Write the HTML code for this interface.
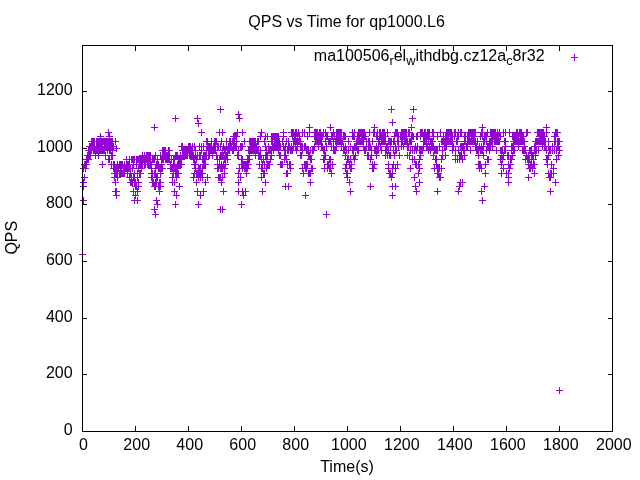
<!DOCTYPE html>
<html><head><meta charset="utf-8"><title>QPS vs Time for qp1000.L6</title>
<style>
html,body{margin:0;padding:0;background:#fff;}
svg{display:block}
text{font-family:"Liberation Sans",Arial,sans-serif;font-size:16px;fill:#000}
</style></head><body>
<svg width="640" height="480" viewBox="0 0 640 480">
<rect width="640" height="480" fill="#fff"/>
<text x="346.6" y="26.5" text-anchor="middle">QPS vs Time for qp1000.L6</text>
<text x="347" y="471.5" text-anchor="middle">Time(s)</text>
<text transform="translate(16.5,237.7) rotate(-90)" text-anchor="middle">QPS</text>
<text x="544.6" y="61" text-anchor="end">ma100506<tspan font-size="12.8" dy="3.6">r</tspan><tspan dy="-3.6">el</tspan><tspan font-size="12.8" dy="3.6">w</tspan><tspan dy="-3.6">ithdbg.cz12a</tspan><tspan font-size="12.8" dy="3.6">c</tspan><tspan dy="-3.6">8r32</tspan></text>
<text x="83.5" y="449.9" text-anchor="middle">0</text><text x="136.7" y="449.9" text-anchor="middle">200</text><text x="189.7" y="449.9" text-anchor="middle">400</text><text x="242.7" y="449.9" text-anchor="middle">600</text><text x="295.7" y="449.9" text-anchor="middle">800</text><text x="348.8" y="449.9" text-anchor="middle">1000</text><text x="401.8" y="449.9" text-anchor="middle">1200</text><text x="454.8" y="449.9" text-anchor="middle">1400</text><text x="507.8" y="449.9" text-anchor="middle">1600</text><text x="560.8" y="449.9" text-anchor="middle">1800</text><text x="613.8" y="449.9" text-anchor="middle">2000</text><text x="72.6" y="434.5" text-anchor="end">0</text><text x="72.6" y="377.5" text-anchor="end">200</text><text x="72.6" y="321.5" text-anchor="end">400</text><text x="72.6" y="264.5" text-anchor="end">600</text><text x="72.6" y="207.5" text-anchor="end">800</text><text x="72.6" y="151.5" text-anchor="end">1000</text><text x="72.6" y="94.5" text-anchor="end">1200</text>
<path d="M89 146.5h7M92.5 143v7M89 141.5h7M92.5 138v7M90 150.5h7M93.5 147v7M90 146.5h7M93.5 143v7M90 141.5h7M93.5 138v7M90 150.5h7M93.5 147v7M91 146.5h7M94.5 143v7M91 141.5h7M94.5 138v7M91 150.5h7M94.5 147v7M91 141.5h7M94.5 138v7M92 150.5h7M95.5 147v7M92 150.5h7M95.5 147v7M92 155.5h7M95.5 152v7M93 141.5h7M96.5 138v7M93 150.5h7M96.5 147v7M93 146.5h7M96.5 143v7M93 141.5h7M96.5 138v7M94 150.5h7M97.5 147v7M94 141.5h7M97.5 138v7M94 141.5h7M97.5 138v7M94 146.5h7M97.5 143v7M95 146.5h7M98.5 143v7M95 141.5h7M98.5 138v7M95 150.5h7M98.5 147v7M95 146.5h7M98.5 143v7M96 141.5h7M99.5 138v7M96 150.5h7M99.5 147v7M96 146.5h7M99.5 143v7M96 141.5h7M99.5 138v7M97 150.5h7M100.5 147v7M97 146.5h7M100.5 143v7M97 141.5h7M100.5 138v7M98 150.5h7M101.5 147v7M98 146.5h7M101.5 143v7M98 141.5h7M101.5 138v7M98 150.5h7M101.5 147v7M99 150.5h7M102.5 147v7M99 141.5h7M102.5 138v7M99 150.5h7M102.5 147v7M99 146.5h7M102.5 143v7M100 141.5h7M103.5 138v7M100 150.5h7M103.5 147v7M100 141.5h7M103.5 138v7M100 141.5h7M103.5 138v7M101 150.5h7M104.5 147v7M101 146.5h7M104.5 143v7M101 141.5h7M104.5 138v7M102 146.5h7M105.5 143v7M102 146.5h7M105.5 143v7M102 141.5h7M105.5 138v7M102 146.5h7M105.5 143v7M103 146.5h7M106.5 143v7M103 141.5h7M106.5 138v7M103 141.5h7M106.5 138v7M103 141.5h7M106.5 138v7M104 141.5h7M107.5 138v7M104 146.5h7M107.5 143v7M104 146.5h7M107.5 143v7M104 150.5h7M107.5 147v7M105 146.5h7M108.5 143v7M105 146.5h7M108.5 143v7M105 141.5h7M108.5 138v7M106 150.5h7M109.5 147v7M106 146.5h7M109.5 143v7M106 141.5h7M109.5 138v7M106 150.5h7M109.5 147v7M107 146.5h7M110.5 143v7M107 141.5h7M110.5 138v7M107 150.5h7M110.5 147v7M107 146.5h7M110.5 143v7M108 141.5h7M111.5 138v7M108 155.5h7M111.5 152v7M108 146.5h7M111.5 143v7M108 141.5h7M111.5 138v7M109 150.5h7M112.5 147v7M109 146.5h7M112.5 143v7M109 141.5h7M112.5 138v7M109 141.5h7M112.5 138v7M110 146.5h7M113.5 143v7M110 168.5h7M113.5 165v7M110 164.5h7M113.5 161v7M111 164.5h7M114.5 161v7M111 173.5h7M114.5 170v7M111 168.5h7M114.5 165v7M111 173.5h7M114.5 170v7M112 168.5h7M115.5 165v7M112 173.5h7M115.5 170v7M112 168.5h7M115.5 165v7M112 168.5h7M115.5 165v7M113 168.5h7M116.5 165v7M113 173.5h7M116.5 170v7M113 173.5h7M116.5 170v7M113 173.5h7M116.5 170v7M114 164.5h7M117.5 161v7M114 173.5h7M117.5 170v7M114 168.5h7M117.5 165v7M115 168.5h7M118.5 165v7M115 168.5h7M118.5 165v7M115 168.5h7M118.5 165v7M115 168.5h7M118.5 165v7M116 173.5h7M119.5 170v7M116 173.5h7M119.5 170v7M116 164.5h7M119.5 161v7M116 164.5h7M119.5 161v7M117 164.5h7M120.5 161v7M117 168.5h7M120.5 165v7M117 164.5h7M120.5 161v7M117 168.5h7M120.5 165v7M118 164.5h7M121.5 161v7M118 168.5h7M121.5 165v7M118 173.5h7M121.5 170v7M118 173.5h7M121.5 170v7M119 164.5h7M122.5 161v7M119 164.5h7M122.5 161v7M119 173.5h7M122.5 170v7M120 168.5h7M123.5 165v7M120 173.5h7M123.5 170v7M120 173.5h7M123.5 170v7M120 168.5h7M123.5 165v7M121 164.5h7M124.5 161v7M121 164.5h7M124.5 161v7M121 168.5h7M124.5 165v7M121 173.5h7M124.5 170v7M122 168.5h7M125.5 165v7M122 168.5h7M125.5 165v7M122 168.5h7M125.5 165v7M122 168.5h7M125.5 165v7M123 168.5h7M126.5 165v7M123 164.5h7M126.5 161v7M123 159.5h7M126.5 156v7M124 173.5h7M127.5 170v7M124 164.5h7M127.5 161v7M124 168.5h7M127.5 165v7M124 164.5h7M127.5 161v7M125 168.5h7M128.5 165v7M125 164.5h7M128.5 161v7M125 164.5h7M128.5 161v7M125 164.5h7M128.5 161v7M126 168.5h7M129.5 165v7M126 159.5h7M129.5 156v7M126 177.5h7M129.5 174v7M126 164.5h7M129.5 161v7M127 173.5h7M130.5 170v7M127 182.5h7M130.5 179v7M127 173.5h7M130.5 170v7M127 168.5h7M130.5 165v7M128 182.5h7M131.5 179v7M128 159.5h7M131.5 156v7M128 177.5h7M131.5 174v7M129 159.5h7M132.5 156v7M129 182.5h7M132.5 179v7M129 168.5h7M132.5 165v7M129 168.5h7M132.5 165v7M130 159.5h7M133.5 156v7M130 177.5h7M133.5 174v7M130 164.5h7M133.5 161v7M130 191.5h7M133.5 188v7M131 173.5h7M134.5 170v7M131 177.5h7M134.5 174v7M131 182.5h7M134.5 179v7M131 159.5h7M134.5 156v7M132 186.5h7M135.5 183v7M132 186.5h7M135.5 183v7M132 182.5h7M135.5 179v7M133 186.5h7M136.5 183v7M133 164.5h7M136.5 161v7M133 186.5h7M136.5 183v7M133 159.5h7M136.5 156v7M134 173.5h7M137.5 170v7M134 191.5h7M137.5 188v7M134 177.5h7M137.5 174v7M134 159.5h7M137.5 156v7M135 159.5h7M138.5 156v7M135 186.5h7M138.5 183v7M135 182.5h7M138.5 179v7M135 168.5h7M138.5 165v7M136 159.5h7M139.5 156v7M136 173.5h7M139.5 170v7M136 164.5h7M139.5 161v7M137 173.5h7M140.5 170v7M137 173.5h7M140.5 170v7M137 164.5h7M140.5 161v7M137 159.5h7M140.5 156v7M138 164.5h7M141.5 161v7M138 159.5h7M141.5 156v7M138 159.5h7M141.5 156v7M138 168.5h7M141.5 165v7M139 159.5h7M142.5 156v7M139 164.5h7M142.5 161v7M139 155.5h7M142.5 152v7M139 164.5h7M142.5 161v7M140 159.5h7M143.5 156v7M140 159.5h7M143.5 156v7M140 159.5h7M143.5 156v7M140 159.5h7M143.5 156v7M141 164.5h7M144.5 161v7M141 159.5h7M144.5 156v7M141 155.5h7M144.5 152v7M142 164.5h7M145.5 161v7M142 159.5h7M145.5 156v7M142 164.5h7M145.5 161v7M142 159.5h7M145.5 156v7M143 159.5h7M146.5 156v7M143 159.5h7M146.5 156v7M143 159.5h7M146.5 156v7M143 155.5h7M146.5 152v7M144 164.5h7M147.5 161v7M144 159.5h7M147.5 156v7M144 155.5h7M147.5 152v7M144 159.5h7M147.5 156v7M145 164.5h7M148.5 161v7M145 155.5h7M148.5 152v7M145 159.5h7M148.5 156v7M146 155.5h7M149.5 152v7M146 164.5h7M149.5 161v7M146 155.5h7M149.5 152v7M146 159.5h7M149.5 156v7M147 155.5h7M150.5 152v7M147 164.5h7M150.5 161v7M147 159.5h7M150.5 156v7M147 164.5h7M150.5 161v7M148 173.5h7M151.5 170v7M148 177.5h7M151.5 174v7M148 164.5h7M151.5 161v7M148 168.5h7M151.5 165v7M149 177.5h7M152.5 174v7M149 182.5h7M152.5 179v7M149 173.5h7M152.5 170v7M149 159.5h7M152.5 156v7M150 182.5h7M153.5 179v7M150 182.5h7M153.5 179v7M150 159.5h7M153.5 156v7M151 173.5h7M154.5 170v7M151 173.5h7M154.5 170v7M151 186.5h7M154.5 183v7M151 159.5h7M154.5 156v7M152 168.5h7M155.5 165v7M152 186.5h7M155.5 183v7M152 173.5h7M155.5 170v7M152 155.5h7M155.5 152v7M153 177.5h7M156.5 174v7M153 182.5h7M156.5 179v7M153 164.5h7M156.5 161v7M153 177.5h7M156.5 174v7M154 159.5h7M157.5 156v7M154 164.5h7M157.5 161v7M154 177.5h7M157.5 174v7M155 186.5h7M158.5 183v7M155 164.5h7M158.5 161v7M155 168.5h7M158.5 165v7M155 168.5h7M158.5 165v7M156 186.5h7M159.5 183v7M156 182.5h7M159.5 179v7M156 168.5h7M159.5 165v7M156 168.5h7M159.5 165v7M157 173.5h7M160.5 170v7M157 155.5h7M160.5 152v7M157 168.5h7M160.5 165v7M157 168.5h7M160.5 165v7M158 168.5h7M161.5 165v7M158 164.5h7M161.5 161v7M158 159.5h7M161.5 156v7M159 168.5h7M162.5 165v7M159 159.5h7M162.5 156v7M159 150.5h7M162.5 147v7M159 155.5h7M162.5 152v7M160 155.5h7M163.5 152v7M160 155.5h7M163.5 152v7M160 159.5h7M163.5 156v7M160 150.5h7M163.5 147v7M161 155.5h7M164.5 152v7M161 155.5h7M164.5 152v7M161 150.5h7M164.5 147v7M161 155.5h7M164.5 152v7M162 159.5h7M165.5 156v7M162 155.5h7M165.5 152v7M162 155.5h7M165.5 152v7M162 150.5h7M165.5 147v7M163 159.5h7M166.5 156v7M163 159.5h7M166.5 156v7M163 155.5h7M166.5 152v7M164 155.5h7M167.5 152v7M164 159.5h7M167.5 156v7M164 155.5h7M167.5 152v7M164 155.5h7M167.5 152v7M165 150.5h7M168.5 147v7M165 155.5h7M168.5 152v7M165 159.5h7M168.5 156v7M165 150.5h7M168.5 147v7M166 155.5h7M169.5 152v7M166 159.5h7M169.5 156v7M166 150.5h7M169.5 147v7M166 155.5h7M169.5 152v7M167 164.5h7M170.5 161v7M167 164.5h7M170.5 161v7M167 168.5h7M170.5 165v7M168 159.5h7M171.5 156v7M168 159.5h7M171.5 156v7M168 168.5h7M171.5 165v7M168 168.5h7M171.5 165v7M169 168.5h7M172.5 165v7M169 168.5h7M172.5 165v7M169 168.5h7M172.5 165v7M169 177.5h7M172.5 174v7M170 159.5h7M173.5 156v7M170 164.5h7M173.5 161v7M170 173.5h7M173.5 170v7M170 168.5h7M173.5 165v7M171 168.5h7M174.5 165v7M171 182.5h7M174.5 179v7M171 159.5h7M174.5 156v7M171 164.5h7M174.5 161v7M172 168.5h7M175.5 165v7M172 173.5h7M175.5 170v7M172 155.5h7M175.5 152v7M173 155.5h7M176.5 152v7M173 173.5h7M176.5 170v7M173 168.5h7M176.5 165v7M173 177.5h7M176.5 174v7M174 168.5h7M177.5 165v7M174 155.5h7M177.5 152v7M174 164.5h7M177.5 161v7M174 173.5h7M177.5 170v7M175 173.5h7M178.5 170v7M175 159.5h7M178.5 156v7M175 164.5h7M178.5 161v7M175 173.5h7M178.5 170v7M176 164.5h7M179.5 161v7M176 164.5h7M179.5 161v7M176 159.5h7M179.5 156v7M177 159.5h7M180.5 156v7M177 164.5h7M180.5 161v7M177 159.5h7M180.5 156v7M177 155.5h7M180.5 152v7M178 164.5h7M181.5 161v7M178 159.5h7M181.5 156v7M178 159.5h7M181.5 156v7M178 146.5h7M181.5 143v7M179 155.5h7M182.5 152v7M179 150.5h7M182.5 147v7M179 155.5h7M182.5 152v7M179 146.5h7M182.5 143v7M180 155.5h7M183.5 152v7M180 150.5h7M183.5 147v7M180 150.5h7M183.5 147v7M180 155.5h7M183.5 152v7M181 155.5h7M184.5 152v7M181 150.5h7M184.5 147v7M181 150.5h7M184.5 147v7M182 150.5h7M185.5 147v7M182 155.5h7M185.5 152v7M182 150.5h7M185.5 147v7M182 150.5h7M185.5 147v7M183 150.5h7M186.5 147v7M183 155.5h7M186.5 152v7M183 150.5h7M186.5 147v7M183 150.5h7M186.5 147v7M184 155.5h7M187.5 152v7M184 155.5h7M187.5 152v7M184 150.5h7M187.5 147v7M184 150.5h7M187.5 147v7M185 146.5h7M188.5 143v7M185 150.5h7M188.5 147v7M185 150.5h7M188.5 147v7M186 155.5h7M189.5 152v7M186 146.5h7M189.5 143v7M186 155.5h7M189.5 152v7M186 150.5h7M189.5 147v7M187 155.5h7M190.5 152v7M187 150.5h7M190.5 147v7M187 155.5h7M190.5 152v7M187 146.5h7M190.5 143v7M188 155.5h7M191.5 152v7M188 150.5h7M191.5 147v7M188 155.5h7M191.5 152v7M188 150.5h7M191.5 147v7M189 150.5h7M192.5 147v7M189 146.5h7M192.5 143v7M189 155.5h7M192.5 152v7M190 159.5h7M193.5 156v7M190 155.5h7M193.5 152v7M190 159.5h7M193.5 156v7M190 159.5h7M193.5 156v7M191 164.5h7M194.5 161v7M191 146.5h7M194.5 143v7M191 159.5h7M194.5 156v7M191 173.5h7M194.5 170v7M192 164.5h7M195.5 161v7M192 150.5h7M195.5 147v7M192 168.5h7M195.5 165v7M192 155.5h7M195.5 152v7M193 159.5h7M196.5 156v7M193 159.5h7M196.5 156v7M193 159.5h7M196.5 156v7M193 173.5h7M196.5 170v7M194 155.5h7M197.5 152v7M194 173.5h7M197.5 170v7M194 155.5h7M197.5 152v7M195 168.5h7M198.5 165v7M195 168.5h7M198.5 165v7M195 177.5h7M198.5 174v7M195 173.5h7M198.5 170v7M196 168.5h7M199.5 165v7M196 146.5h7M199.5 143v7M196 173.5h7M199.5 170v7M196 155.5h7M199.5 152v7M197 177.5h7M200.5 174v7M197 155.5h7M200.5 152v7M197 173.5h7M200.5 170v7M197 168.5h7M200.5 165v7M198 173.5h7M201.5 170v7M198 146.5h7M201.5 143v7M198 150.5h7M201.5 147v7M199 159.5h7M202.5 156v7M199 168.5h7M202.5 165v7M199 177.5h7M202.5 174v7M199 173.5h7M202.5 170v7M200 146.5h7M203.5 143v7M200 164.5h7M203.5 161v7M200 159.5h7M203.5 156v7M200 155.5h7M203.5 152v7M201 155.5h7M204.5 152v7M201 164.5h7M204.5 161v7M201 159.5h7M204.5 156v7M201 159.5h7M204.5 156v7M202 159.5h7M205.5 156v7M202 164.5h7M205.5 161v7M202 155.5h7M205.5 152v7M202 155.5h7M205.5 152v7M203 141.5h7M206.5 138v7M203 155.5h7M206.5 152v7M203 150.5h7M206.5 147v7M204 146.5h7M207.5 143v7M204 146.5h7M207.5 143v7M204 141.5h7M207.5 138v7M204 141.5h7M207.5 138v7M205 150.5h7M208.5 147v7M205 146.5h7M208.5 143v7M205 155.5h7M208.5 152v7M205 146.5h7M208.5 143v7M206 150.5h7M209.5 147v7M206 150.5h7M209.5 147v7M206 155.5h7M209.5 152v7M206 146.5h7M209.5 143v7M207 150.5h7M210.5 147v7M207 146.5h7M210.5 143v7M207 150.5h7M210.5 147v7M208 146.5h7M211.5 143v7M208 150.5h7M211.5 147v7M208 150.5h7M211.5 147v7M208 141.5h7M211.5 138v7M209 155.5h7M212.5 152v7M209 150.5h7M212.5 147v7M209 150.5h7M212.5 147v7M209 150.5h7M212.5 147v7M210 150.5h7M213.5 147v7M210 150.5h7M213.5 147v7M210 146.5h7M213.5 143v7M210 150.5h7M213.5 147v7M211 146.5h7M214.5 143v7M211 150.5h7M214.5 147v7M211 141.5h7M214.5 138v7M212 150.5h7M215.5 147v7M212 146.5h7M215.5 143v7M212 141.5h7M215.5 138v7M212 146.5h7M215.5 143v7M213 141.5h7M216.5 138v7M213 155.5h7M216.5 152v7M213 155.5h7M216.5 152v7M213 155.5h7M216.5 152v7M214 159.5h7M217.5 156v7M214 164.5h7M217.5 161v7M214 146.5h7M217.5 143v7M214 168.5h7M217.5 165v7M215 177.5h7M218.5 174v7M215 168.5h7M218.5 165v7M215 168.5h7M218.5 165v7M215 146.5h7M218.5 143v7M216 159.5h7M219.5 156v7M216 177.5h7M219.5 174v7M216 164.5h7M219.5 161v7M217 168.5h7M220.5 165v7M217 155.5h7M220.5 152v7M217 177.5h7M220.5 174v7M217 146.5h7M220.5 143v7M218 168.5h7M221.5 165v7M218 164.5h7M221.5 161v7M218 155.5h7M221.5 152v7M218 141.5h7M221.5 138v7M219 168.5h7M222.5 165v7M219 177.5h7M222.5 174v7M219 150.5h7M222.5 147v7M219 155.5h7M222.5 152v7M220 146.5h7M223.5 143v7M220 155.5h7M223.5 152v7M220 164.5h7M223.5 161v7M221 150.5h7M224.5 147v7M221 168.5h7M224.5 165v7M221 159.5h7M224.5 156v7M221 173.5h7M224.5 170v7M222 150.5h7M225.5 147v7M222 159.5h7M225.5 156v7M222 164.5h7M225.5 161v7M222 155.5h7M225.5 152v7M223 141.5h7M226.5 138v7M223 155.5h7M226.5 152v7M223 155.5h7M226.5 152v7M223 146.5h7M226.5 143v7M224 155.5h7M227.5 152v7M224 159.5h7M227.5 156v7M224 150.5h7M227.5 147v7M224 155.5h7M227.5 152v7M225 146.5h7M228.5 143v7M225 146.5h7M228.5 143v7M225 150.5h7M228.5 147v7M226 141.5h7M229.5 138v7M226 146.5h7M229.5 143v7M226 141.5h7M229.5 138v7M226 150.5h7M229.5 147v7M227 146.5h7M230.5 143v7M227 141.5h7M230.5 138v7M227 146.5h7M230.5 143v7M227 146.5h7M230.5 143v7M228 146.5h7M231.5 143v7M228 146.5h7M231.5 143v7M228 146.5h7M231.5 143v7M228 146.5h7M231.5 143v7M229 141.5h7M232.5 138v7M229 141.5h7M232.5 138v7M229 150.5h7M232.5 147v7M230 150.5h7M233.5 147v7M230 141.5h7M233.5 138v7M230 146.5h7M233.5 143v7M230 136.5h7M233.5 133v7M231 146.5h7M234.5 143v7M231 146.5h7M234.5 143v7M231 136.5h7M234.5 133v7M231 141.5h7M234.5 138v7M232 136.5h7M235.5 133v7M232 136.5h7M235.5 133v7M232 146.5h7M235.5 143v7M232 136.5h7M235.5 133v7M233 136.5h7M236.5 133v7M233 146.5h7M236.5 143v7M233 141.5h7M236.5 138v7M233 141.5h7M236.5 138v7M234 155.5h7M237.5 152v7M234 155.5h7M237.5 152v7M234 155.5h7M237.5 152v7M235 150.5h7M238.5 147v7M235 173.5h7M238.5 170v7M235 155.5h7M238.5 152v7M235 150.5h7M238.5 147v7M236 168.5h7M239.5 165v7M236 168.5h7M239.5 165v7M236 168.5h7M239.5 165v7M236 168.5h7M239.5 165v7M237 146.5h7M240.5 143v7M237 146.5h7M240.5 143v7M237 177.5h7M240.5 174v7M237 177.5h7M240.5 174v7M238 146.5h7M241.5 143v7M238 159.5h7M241.5 156v7M238 164.5h7M241.5 161v7M239 146.5h7M242.5 143v7M239 168.5h7M242.5 165v7M239 164.5h7M242.5 161v7M239 159.5h7M242.5 156v7M240 164.5h7M243.5 161v7M240 164.5h7M243.5 161v7M240 164.5h7M243.5 161v7M240 164.5h7M243.5 161v7M241 141.5h7M244.5 138v7M241 168.5h7M244.5 165v7M241 168.5h7M244.5 165v7M241 164.5h7M244.5 161v7M242 164.5h7M245.5 161v7M242 168.5h7M245.5 165v7M242 164.5h7M245.5 161v7M243 164.5h7M246.5 161v7M243 164.5h7M246.5 161v7M243 168.5h7M246.5 165v7M243 173.5h7M246.5 170v7M244 164.5h7M247.5 161v7M244 164.5h7M247.5 161v7M244 159.5h7M247.5 156v7M244 168.5h7M247.5 165v7M245 164.5h7M248.5 161v7M245 164.5h7M248.5 161v7M245 159.5h7M248.5 156v7M245 150.5h7M248.5 147v7M246 141.5h7M249.5 138v7M246 150.5h7M249.5 147v7M246 155.5h7M249.5 152v7M246 159.5h7M249.5 156v7M247 141.5h7M250.5 138v7M247 146.5h7M250.5 143v7M247 150.5h7M250.5 147v7M248 141.5h7M251.5 138v7M248 146.5h7M251.5 143v7M248 150.5h7M251.5 147v7M248 146.5h7M251.5 143v7M249 141.5h7M252.5 138v7M249 150.5h7M252.5 147v7M249 141.5h7M252.5 138v7M249 146.5h7M252.5 143v7M250 146.5h7M253.5 143v7M250 146.5h7M253.5 143v7M250 141.5h7M253.5 138v7M250 150.5h7M253.5 147v7M251 141.5h7M254.5 138v7M251 146.5h7M254.5 143v7M251 150.5h7M254.5 147v7M252 146.5h7M255.5 143v7M252 141.5h7M255.5 138v7M252 150.5h7M255.5 147v7M252 155.5h7M255.5 152v7M253 146.5h7M256.5 143v7M253 150.5h7M256.5 147v7M253 146.5h7M256.5 143v7M253 146.5h7M256.5 143v7M254 150.5h7M257.5 147v7M254 150.5h7M257.5 147v7M254 150.5h7M257.5 147v7M254 141.5h7M257.5 138v7M255 141.5h7M258.5 138v7M255 150.5h7M258.5 147v7M255 155.5h7M258.5 152v7M255 155.5h7M258.5 152v7M256 155.5h7M259.5 152v7M256 155.5h7M259.5 152v7M256 164.5h7M259.5 161v7M257 155.5h7M260.5 152v7M257 136.5h7M260.5 133v7M257 155.5h7M260.5 152v7M257 150.5h7M260.5 147v7M258 159.5h7M261.5 156v7M258 168.5h7M261.5 165v7M258 177.5h7M261.5 174v7M258 168.5h7M261.5 165v7M259 168.5h7M262.5 165v7M259 168.5h7M262.5 165v7M259 164.5h7M262.5 161v7M259 164.5h7M262.5 161v7M260 173.5h7M263.5 170v7M260 159.5h7M263.5 156v7M260 159.5h7M263.5 156v7M261 141.5h7M264.5 138v7M261 173.5h7M264.5 170v7M261 173.5h7M264.5 170v7M261 164.5h7M264.5 161v7M262 146.5h7M265.5 143v7M262 136.5h7M265.5 133v7M262 136.5h7M265.5 133v7M262 155.5h7M265.5 152v7M263 150.5h7M266.5 147v7M263 168.5h7M266.5 165v7M263 159.5h7M266.5 156v7M263 155.5h7M266.5 152v7M264 155.5h7M267.5 152v7M264 136.5h7M267.5 133v7M264 164.5h7M267.5 161v7M265 164.5h7M268.5 161v7M265 150.5h7M268.5 147v7M265 146.5h7M268.5 143v7M265 164.5h7M268.5 161v7M266 164.5h7M269.5 161v7M266 164.5h7M269.5 161v7M266 164.5h7M269.5 161v7M266 150.5h7M269.5 147v7M267 159.5h7M270.5 156v7M267 159.5h7M270.5 156v7M267 159.5h7M270.5 156v7M267 150.5h7M270.5 147v7M268 150.5h7M271.5 147v7M268 155.5h7M271.5 152v7M268 136.5h7M271.5 133v7M268 141.5h7M271.5 138v7M269 146.5h7M272.5 143v7M269 141.5h7M272.5 138v7M269 136.5h7M272.5 133v7M270 146.5h7M273.5 143v7M270 136.5h7M273.5 133v7M270 150.5h7M273.5 147v7M270 146.5h7M273.5 143v7M271 141.5h7M274.5 138v7M271 136.5h7M274.5 133v7M271 146.5h7M274.5 143v7M271 136.5h7M274.5 133v7M272 141.5h7M275.5 138v7M272 146.5h7M275.5 143v7M272 141.5h7M275.5 138v7M272 136.5h7M275.5 133v7M273 146.5h7M276.5 143v7M273 136.5h7M276.5 133v7M273 141.5h7M276.5 138v7M274 146.5h7M277.5 143v7M274 141.5h7M277.5 138v7M274 136.5h7M277.5 133v7M274 146.5h7M277.5 143v7M275 136.5h7M278.5 133v7M275 141.5h7M278.5 138v7M275 146.5h7M278.5 143v7M275 150.5h7M278.5 147v7M276 141.5h7M279.5 138v7M276 155.5h7M279.5 152v7M276 146.5h7M279.5 143v7M276 146.5h7M279.5 143v7M277 146.5h7M280.5 143v7M277 146.5h7M280.5 143v7M277 164.5h7M280.5 161v7M277 155.5h7M280.5 152v7M278 164.5h7M281.5 161v7M278 164.5h7M281.5 161v7M278 164.5h7M281.5 161v7M279 164.5h7M282.5 161v7M279 164.5h7M282.5 161v7M279 141.5h7M282.5 138v7M279 141.5h7M282.5 138v7M280 132.5h7M283.5 129v7M280 136.5h7M283.5 133v7M280 146.5h7M283.5 143v7M280 146.5h7M283.5 143v7M281 150.5h7M284.5 147v7M281 159.5h7M284.5 156v7M281 159.5h7M284.5 156v7M281 155.5h7M284.5 152v7M282 150.5h7M285.5 147v7M282 146.5h7M285.5 143v7M282 155.5h7M285.5 152v7M283 159.5h7M286.5 156v7M283 159.5h7M286.5 156v7M283 141.5h7M286.5 138v7M283 173.5h7M286.5 170v7M284 150.5h7M287.5 147v7M284 173.5h7M287.5 170v7M284 164.5h7M287.5 161v7M284 164.5h7M287.5 161v7M285 146.5h7M288.5 143v7M285 150.5h7M288.5 147v7M285 141.5h7M288.5 138v7M285 146.5h7M288.5 143v7M286 146.5h7M289.5 143v7M286 146.5h7M289.5 143v7M286 146.5h7M289.5 143v7M286 164.5h7M289.5 161v7M287 168.5h7M290.5 165v7M287 164.5h7M290.5 161v7M287 150.5h7M290.5 147v7M288 150.5h7M291.5 147v7M288 146.5h7M291.5 143v7M288 146.5h7M291.5 143v7M288 132.5h7M291.5 129v7M289 132.5h7M292.5 129v7M289 132.5h7M292.5 129v7M289 136.5h7M292.5 133v7M289 150.5h7M292.5 147v7M290 146.5h7M293.5 143v7M290 141.5h7M293.5 138v7M290 141.5h7M293.5 138v7M290 132.5h7M293.5 129v7M291 136.5h7M294.5 133v7M291 141.5h7M294.5 138v7M291 136.5h7M294.5 133v7M292 146.5h7M295.5 143v7M292 141.5h7M295.5 138v7M292 132.5h7M295.5 129v7M292 136.5h7M295.5 133v7M293 141.5h7M296.5 138v7M293 150.5h7M296.5 147v7M293 132.5h7M296.5 129v7M293 141.5h7M296.5 138v7M294 146.5h7M297.5 143v7M294 146.5h7M297.5 143v7M294 141.5h7M297.5 138v7M294 136.5h7M297.5 133v7M295 132.5h7M298.5 129v7M295 141.5h7M298.5 138v7M295 132.5h7M298.5 129v7M296 136.5h7M299.5 133v7M296 141.5h7M299.5 138v7M296 141.5h7M299.5 138v7M296 141.5h7M299.5 138v7M297 141.5h7M300.5 138v7M297 146.5h7M300.5 143v7M297 146.5h7M300.5 143v7M297 155.5h7M300.5 152v7M298 155.5h7M301.5 152v7M298 146.5h7M301.5 143v7M298 146.5h7M301.5 143v7M298 146.5h7M301.5 143v7M299 150.5h7M302.5 147v7M299 146.5h7M302.5 143v7M299 132.5h7M302.5 129v7M299 168.5h7M302.5 165v7M300 173.5h7M303.5 170v7M300 173.5h7M303.5 170v7M300 173.5h7M303.5 170v7M301 132.5h7M304.5 129v7M301 146.5h7M304.5 143v7M301 164.5h7M304.5 161v7M301 164.5h7M304.5 161v7M302 164.5h7M305.5 161v7M302 146.5h7M305.5 143v7M302 146.5h7M305.5 143v7M302 168.5h7M305.5 165v7M303 168.5h7M306.5 165v7M303 150.5h7M306.5 147v7M303 150.5h7M306.5 147v7M303 164.5h7M306.5 161v7M304 164.5h7M307.5 161v7M304 136.5h7M307.5 133v7M304 150.5h7M307.5 147v7M305 155.5h7M308.5 152v7M305 150.5h7M308.5 147v7M305 173.5h7M308.5 170v7M305 173.5h7M308.5 170v7M306 132.5h7M309.5 129v7M306 132.5h7M309.5 129v7M306 155.5h7M309.5 152v7M306 173.5h7M309.5 170v7M307 173.5h7M310.5 170v7M307 173.5h7M310.5 170v7M307 150.5h7M310.5 147v7M307 159.5h7M310.5 156v7M308 159.5h7M311.5 156v7M308 159.5h7M311.5 156v7M308 168.5h7M311.5 165v7M308 168.5h7M311.5 165v7M309 168.5h7M312.5 165v7M309 150.5h7M312.5 147v7M309 150.5h7M312.5 147v7M310 150.5h7M313.5 147v7M310 150.5h7M313.5 147v7M310 150.5h7M313.5 147v7M310 150.5h7M313.5 147v7M311 146.5h7M314.5 143v7M311 146.5h7M314.5 143v7M311 132.5h7M314.5 129v7M311 136.5h7M314.5 133v7M312 141.5h7M315.5 138v7M312 136.5h7M315.5 133v7M312 132.5h7M315.5 129v7M312 141.5h7M315.5 138v7M313 132.5h7M316.5 129v7M313 136.5h7M316.5 133v7M313 141.5h7M316.5 138v7M314 136.5h7M317.5 133v7M314 132.5h7M317.5 129v7M314 141.5h7M317.5 138v7M314 132.5h7M317.5 129v7M315 136.5h7M318.5 133v7M315 141.5h7M318.5 138v7M315 136.5h7M318.5 133v7M315 146.5h7M318.5 143v7M316 141.5h7M319.5 138v7M316 132.5h7M319.5 129v7M316 136.5h7M319.5 133v7M316 141.5h7M319.5 138v7M317 136.5h7M320.5 133v7M317 132.5h7M320.5 129v7M317 141.5h7M320.5 138v7M318 141.5h7M321.5 138v7M318 136.5h7M321.5 133v7M318 146.5h7M321.5 143v7M318 141.5h7M321.5 138v7M319 146.5h7M322.5 143v7M319 136.5h7M322.5 133v7M319 146.5h7M322.5 143v7M319 146.5h7M322.5 143v7M320 132.5h7M323.5 129v7M320 132.5h7M323.5 129v7M320 159.5h7M323.5 156v7M320 150.5h7M323.5 147v7M321 150.5h7M324.5 147v7M321 168.5h7M324.5 165v7M321 155.5h7M324.5 152v7M321 159.5h7M324.5 156v7M322 155.5h7M325.5 152v7M322 141.5h7M325.5 138v7M322 155.5h7M325.5 152v7M323 146.5h7M326.5 143v7M323 146.5h7M326.5 143v7M323 146.5h7M326.5 143v7M323 136.5h7M326.5 133v7M324 136.5h7M327.5 133v7M324 168.5h7M327.5 165v7M324 136.5h7M327.5 133v7M324 164.5h7M327.5 161v7M325 164.5h7M328.5 161v7M325 164.5h7M328.5 161v7M325 141.5h7M328.5 138v7M325 141.5h7M328.5 138v7M326 141.5h7M329.5 138v7M326 168.5h7M329.5 165v7M326 159.5h7M329.5 156v7M327 168.5h7M330.5 165v7M327 164.5h7M330.5 161v7M327 159.5h7M330.5 156v7M327 141.5h7M330.5 138v7M328 173.5h7M331.5 170v7M328 173.5h7M331.5 170v7M328 136.5h7M331.5 133v7M328 146.5h7M331.5 143v7M329 136.5h7M332.5 133v7M329 136.5h7M332.5 133v7M329 164.5h7M332.5 161v7M329 136.5h7M332.5 133v7M330 150.5h7M333.5 147v7M330 146.5h7M333.5 143v7M330 132.5h7M333.5 129v7M330 141.5h7M333.5 138v7M331 150.5h7M334.5 147v7M331 150.5h7M334.5 147v7M331 136.5h7M334.5 133v7M332 141.5h7M335.5 138v7M332 150.5h7M335.5 147v7M332 150.5h7M335.5 147v7M332 150.5h7M335.5 147v7M333 136.5h7M336.5 133v7M333 132.5h7M336.5 129v7M333 141.5h7M336.5 138v7M333 146.5h7M336.5 143v7M334 136.5h7M337.5 133v7M334 141.5h7M337.5 138v7M334 136.5h7M337.5 133v7M334 132.5h7M337.5 129v7M335 141.5h7M338.5 138v7M335 132.5h7M338.5 129v7M335 136.5h7M338.5 133v7M336 141.5h7M339.5 138v7M336 136.5h7M339.5 133v7M336 132.5h7M339.5 129v7M336 141.5h7M339.5 138v7M337 132.5h7M340.5 129v7M337 136.5h7M340.5 133v7M337 141.5h7M340.5 138v7M337 136.5h7M340.5 133v7M338 146.5h7M341.5 143v7M338 141.5h7M341.5 138v7M338 132.5h7M341.5 129v7M338 136.5h7M341.5 133v7M339 141.5h7M342.5 138v7M339 141.5h7M342.5 138v7M339 141.5h7M342.5 138v7M339 141.5h7M342.5 138v7M340 136.5h7M343.5 133v7M340 146.5h7M343.5 143v7M340 150.5h7M343.5 147v7M341 150.5h7M344.5 147v7M341 136.5h7M344.5 133v7M341 150.5h7M344.5 147v7M341 136.5h7M344.5 133v7M342 146.5h7M345.5 143v7M342 168.5h7M345.5 165v7M342 155.5h7M345.5 152v7M342 136.5h7M345.5 133v7M343 150.5h7M346.5 147v7M343 173.5h7M346.5 170v7M343 164.5h7M346.5 161v7M343 164.5h7M346.5 161v7M344 177.5h7M347.5 174v7M344 173.5h7M347.5 170v7M344 159.5h7M347.5 156v7M345 159.5h7M348.5 156v7M345 141.5h7M348.5 138v7M345 150.5h7M348.5 147v7M345 150.5h7M348.5 147v7M346 164.5h7M349.5 161v7M346 164.5h7M349.5 161v7M346 164.5h7M349.5 161v7M346 164.5h7M349.5 161v7M347 159.5h7M350.5 156v7M347 146.5h7M350.5 143v7M347 168.5h7M350.5 165v7M347 168.5h7M350.5 165v7M348 164.5h7M351.5 161v7M348 168.5h7M351.5 165v7M348 168.5h7M351.5 165v7M349 132.5h7M352.5 129v7M349 132.5h7M352.5 129v7M349 136.5h7M352.5 133v7M349 150.5h7M352.5 147v7M350 150.5h7M353.5 147v7M350 155.5h7M353.5 152v7M350 136.5h7M353.5 133v7M350 136.5h7M353.5 133v7M351 146.5h7M354.5 143v7M351 132.5h7M354.5 129v7M351 136.5h7M354.5 133v7M351 159.5h7M354.5 156v7M352 155.5h7M355.5 152v7M352 146.5h7M355.5 143v7M352 146.5h7M355.5 143v7M352 146.5h7M355.5 143v7M353 146.5h7M356.5 143v7M353 146.5h7M356.5 143v7M353 141.5h7M356.5 138v7M354 141.5h7M357.5 138v7M354 150.5h7M357.5 147v7M354 150.5h7M357.5 147v7M354 136.5h7M357.5 133v7M355 141.5h7M358.5 138v7M355 136.5h7M358.5 133v7M355 132.5h7M358.5 129v7M355 150.5h7M358.5 147v7M356 132.5h7M359.5 129v7M356 136.5h7M359.5 133v7M356 141.5h7M359.5 138v7M356 136.5h7M359.5 133v7M357 132.5h7M360.5 129v7M357 141.5h7M360.5 138v7M357 132.5h7M360.5 129v7M358 136.5h7M361.5 133v7M358 141.5h7M361.5 138v7M358 136.5h7M361.5 133v7M358 132.5h7M361.5 129v7M359 141.5h7M362.5 138v7M359 132.5h7M362.5 129v7M359 136.5h7M362.5 133v7M359 141.5h7M362.5 138v7M360 146.5h7M363.5 143v7M360 132.5h7M363.5 129v7M360 141.5h7M363.5 138v7M360 136.5h7M363.5 133v7M361 150.5h7M364.5 147v7M361 150.5h7M364.5 147v7M361 132.5h7M364.5 129v7M361 136.5h7M364.5 133v7M362 136.5h7M365.5 133v7M362 136.5h7M365.5 133v7M362 150.5h7M365.5 147v7M363 141.5h7M366.5 138v7M363 141.5h7M366.5 138v7M363 141.5h7M366.5 138v7M363 146.5h7M366.5 143v7M364 155.5h7M367.5 152v7M364 155.5h7M367.5 152v7M364 155.5h7M367.5 152v7M364 155.5h7M367.5 152v7M365 155.5h7M368.5 152v7M365 146.5h7M368.5 143v7M365 141.5h7M368.5 138v7M365 141.5h7M368.5 138v7M366 141.5h7M369.5 138v7M366 132.5h7M369.5 129v7M366 146.5h7M369.5 143v7M367 146.5h7M370.5 143v7M367 159.5h7M370.5 156v7M367 146.5h7M370.5 143v7M367 146.5h7M370.5 143v7M368 150.5h7M371.5 147v7M368 150.5h7M371.5 147v7M368 155.5h7M371.5 152v7M368 150.5h7M371.5 147v7M369 141.5h7M372.5 138v7M369 168.5h7M372.5 165v7M369 168.5h7M372.5 165v7M369 164.5h7M372.5 161v7M370 168.5h7M373.5 165v7M370 132.5h7M373.5 129v7M370 132.5h7M373.5 129v7M371 132.5h7M374.5 129v7M371 164.5h7M374.5 161v7M371 164.5h7M374.5 161v7M371 150.5h7M374.5 147v7M372 150.5h7M375.5 147v7M372 150.5h7M375.5 147v7M372 150.5h7M375.5 147v7M372 150.5h7M375.5 147v7M373 150.5h7M376.5 147v7M373 155.5h7M376.5 152v7M373 136.5h7M376.5 133v7M373 146.5h7M376.5 143v7M374 136.5h7M377.5 133v7M374 132.5h7M377.5 129v7M374 150.5h7M377.5 147v7M374 150.5h7M377.5 147v7M375 150.5h7M378.5 147v7M375 146.5h7M378.5 143v7M375 141.5h7M378.5 138v7M376 136.5h7M379.5 133v7M376 132.5h7M379.5 129v7M376 141.5h7M379.5 138v7M376 132.5h7M379.5 129v7M377 136.5h7M380.5 133v7M377 146.5h7M380.5 143v7M377 136.5h7M380.5 133v7M377 132.5h7M380.5 129v7M378 141.5h7M381.5 138v7M378 150.5h7M381.5 147v7M378 136.5h7M381.5 133v7M378 141.5h7M381.5 138v7M379 136.5h7M382.5 133v7M379 132.5h7M382.5 129v7M379 141.5h7M382.5 138v7M380 132.5h7M383.5 129v7M380 136.5h7M383.5 133v7M380 141.5h7M383.5 138v7M380 136.5h7M383.5 133v7M381 132.5h7M384.5 129v7M381 141.5h7M384.5 138v7M381 132.5h7M384.5 129v7M381 136.5h7M384.5 133v7M382 141.5h7M385.5 138v7M382 136.5h7M385.5 133v7M382 155.5h7M385.5 152v7M382 150.5h7M385.5 147v7M383 150.5h7M386.5 147v7M383 150.5h7M386.5 147v7M383 146.5h7M386.5 143v7M383 146.5h7M386.5 143v7M384 132.5h7M387.5 129v7M384 146.5h7M387.5 143v7M384 155.5h7M387.5 152v7M385 164.5h7M388.5 161v7M385 150.5h7M388.5 147v7M385 168.5h7M388.5 165v7M385 141.5h7M388.5 138v7M386 141.5h7M389.5 138v7M386 173.5h7M389.5 170v7M386 141.5h7M389.5 138v7M386 155.5h7M389.5 152v7M387 155.5h7M390.5 152v7M387 146.5h7M390.5 143v7M387 141.5h7M390.5 138v7M387 173.5h7M390.5 170v7M388 141.5h7M391.5 138v7M388 177.5h7M391.5 174v7M388 177.5h7M391.5 174v7M389 168.5h7M392.5 165v7M389 168.5h7M392.5 165v7M389 168.5h7M392.5 165v7M389 173.5h7M392.5 170v7M390 164.5h7M393.5 161v7M390 141.5h7M393.5 138v7M390 150.5h7M393.5 147v7M390 141.5h7M393.5 138v7M391 136.5h7M394.5 133v7M391 155.5h7M394.5 152v7M391 141.5h7M394.5 138v7M391 155.5h7M394.5 152v7M392 132.5h7M395.5 129v7M392 146.5h7M395.5 143v7M392 168.5h7M395.5 165v7M392 150.5h7M395.5 147v7M393 150.5h7M396.5 147v7M393 150.5h7M396.5 147v7M393 132.5h7M396.5 129v7M394 132.5h7M397.5 129v7M394 164.5h7M397.5 161v7M394 136.5h7M397.5 133v7M394 141.5h7M397.5 138v7M395 141.5h7M398.5 138v7M395 136.5h7M398.5 133v7M395 146.5h7M398.5 143v7M395 146.5h7M398.5 143v7M396 155.5h7M399.5 152v7M396 155.5h7M399.5 152v7M396 155.5h7M399.5 152v7M396 155.5h7M399.5 152v7M397 136.5h7M400.5 133v7M397 136.5h7M400.5 133v7M397 136.5h7M400.5 133v7M398 146.5h7M401.5 143v7M398 136.5h7M401.5 133v7M398 132.5h7M401.5 129v7M398 141.5h7M401.5 138v7M399 132.5h7M402.5 129v7M399 136.5h7M402.5 133v7M399 141.5h7M402.5 138v7M399 136.5h7M402.5 133v7M400 132.5h7M403.5 129v7M400 146.5h7M403.5 143v7M400 132.5h7M403.5 129v7M400 136.5h7M403.5 133v7M401 141.5h7M404.5 138v7M401 136.5h7M404.5 133v7M401 132.5h7M404.5 129v7M402 141.5h7M405.5 138v7M402 132.5h7M405.5 129v7M402 136.5h7M405.5 133v7M402 141.5h7M405.5 138v7M403 136.5h7M406.5 133v7M403 132.5h7M406.5 129v7M403 141.5h7M406.5 138v7M403 132.5h7M406.5 129v7M404 146.5h7M407.5 143v7M404 141.5h7M407.5 138v7M404 155.5h7M407.5 152v7M404 155.5h7M407.5 152v7M405 132.5h7M408.5 129v7M405 146.5h7M408.5 143v7M405 146.5h7M408.5 143v7M405 146.5h7M408.5 143v7M406 132.5h7M409.5 129v7M406 141.5h7M409.5 138v7M406 155.5h7M409.5 152v7M407 141.5h7M410.5 138v7M407 150.5h7M410.5 147v7M407 150.5h7M410.5 147v7M407 168.5h7M410.5 165v7M408 136.5h7M411.5 133v7M408 141.5h7M411.5 138v7M408 141.5h7M411.5 138v7M408 141.5h7M411.5 138v7M409 150.5h7M412.5 147v7M409 150.5h7M412.5 147v7M409 159.5h7M412.5 156v7M409 136.5h7M412.5 133v7M410 136.5h7M413.5 133v7M410 136.5h7M413.5 133v7M410 136.5h7M413.5 133v7M411 150.5h7M414.5 147v7M411 177.5h7M414.5 174v7M411 177.5h7M414.5 174v7M411 159.5h7M414.5 156v7M412 146.5h7M415.5 143v7M412 146.5h7M415.5 143v7M412 164.5h7M415.5 161v7M412 164.5h7M415.5 161v7M413 164.5h7M416.5 161v7M413 136.5h7M416.5 133v7M413 150.5h7M416.5 147v7M413 150.5h7M416.5 147v7M414 136.5h7M417.5 133v7M414 136.5h7M417.5 133v7M414 146.5h7M417.5 143v7M414 146.5h7M417.5 143v7M415 164.5h7M418.5 161v7M415 173.5h7M418.5 170v7M415 173.5h7M418.5 170v7M416 150.5h7M419.5 147v7M416 159.5h7M419.5 156v7M416 168.5h7M419.5 165v7M416 168.5h7M419.5 165v7M417 150.5h7M420.5 147v7M417 155.5h7M420.5 152v7M417 136.5h7M420.5 133v7M417 132.5h7M420.5 129v7M418 132.5h7M421.5 129v7M418 150.5h7M421.5 147v7M418 150.5h7M421.5 147v7M418 150.5h7M421.5 147v7M419 150.5h7M422.5 147v7M419 150.5h7M422.5 147v7M419 132.5h7M422.5 129v7M420 146.5h7M423.5 143v7M420 141.5h7M423.5 138v7M420 136.5h7M423.5 133v7M420 146.5h7M423.5 143v7M421 141.5h7M424.5 138v7M421 132.5h7M424.5 129v7M421 136.5h7M424.5 133v7M421 141.5h7M424.5 138v7M422 136.5h7M425.5 133v7M422 132.5h7M425.5 129v7M422 141.5h7M425.5 138v7M422 132.5h7M425.5 129v7M423 136.5h7M426.5 133v7M423 141.5h7M426.5 138v7M423 146.5h7M426.5 143v7M424 132.5h7M427.5 129v7M424 146.5h7M427.5 143v7M424 132.5h7M427.5 129v7M424 136.5h7M427.5 133v7M425 150.5h7M428.5 147v7M425 136.5h7M428.5 133v7M425 132.5h7M428.5 129v7M425 141.5h7M428.5 138v7M426 132.5h7M429.5 129v7M426 146.5h7M429.5 143v7M426 136.5h7M429.5 133v7M426 136.5h7M429.5 133v7M427 150.5h7M430.5 147v7M427 141.5h7M430.5 138v7M427 150.5h7M430.5 147v7M427 141.5h7M430.5 138v7M428 141.5h7M431.5 138v7M428 141.5h7M431.5 138v7M428 146.5h7M431.5 143v7M429 141.5h7M432.5 138v7M429 141.5h7M432.5 138v7M429 146.5h7M432.5 143v7M429 132.5h7M432.5 129v7M430 132.5h7M433.5 129v7M430 155.5h7M433.5 152v7M430 146.5h7M433.5 143v7M430 136.5h7M433.5 133v7M431 168.5h7M434.5 165v7M431 150.5h7M434.5 147v7M431 150.5h7M434.5 147v7M431 150.5h7M434.5 147v7M432 150.5h7M435.5 147v7M432 159.5h7M435.5 156v7M432 159.5h7M435.5 156v7M433 159.5h7M436.5 156v7M433 159.5h7M436.5 156v7M433 150.5h7M436.5 147v7M433 164.5h7M436.5 161v7M434 168.5h7M437.5 165v7M434 150.5h7M437.5 147v7M434 136.5h7M437.5 133v7M434 173.5h7M437.5 170v7M435 173.5h7M438.5 170v7M435 173.5h7M438.5 170v7M435 168.5h7M438.5 165v7M435 168.5h7M438.5 165v7M436 146.5h7M439.5 143v7M436 146.5h7M439.5 143v7M436 177.5h7M439.5 174v7M436 168.5h7M439.5 165v7M437 132.5h7M440.5 129v7M437 132.5h7M440.5 129v7M437 177.5h7M440.5 174v7M438 168.5h7M441.5 165v7M438 159.5h7M441.5 156v7M438 141.5h7M441.5 138v7M438 141.5h7M441.5 138v7M439 141.5h7M442.5 138v7M439 141.5h7M442.5 138v7M439 155.5h7M442.5 152v7M439 150.5h7M442.5 147v7M440 136.5h7M443.5 133v7M440 141.5h7M443.5 138v7M440 141.5h7M443.5 138v7M440 141.5h7M443.5 138v7M441 141.5h7M444.5 138v7M441 146.5h7M444.5 143v7M441 146.5h7M444.5 143v7M442 146.5h7M445.5 143v7M442 155.5h7M445.5 152v7M442 141.5h7M445.5 138v7M442 136.5h7M445.5 133v7M443 146.5h7M446.5 143v7M443 141.5h7M446.5 138v7M443 132.5h7M446.5 129v7M443 136.5h7M446.5 133v7M444 141.5h7M447.5 138v7M444 136.5h7M447.5 133v7M444 132.5h7M447.5 129v7M444 141.5h7M447.5 138v7M445 132.5h7M448.5 129v7M445 136.5h7M448.5 133v7M445 141.5h7M448.5 138v7M445 136.5h7M448.5 133v7M446 132.5h7M449.5 129v7M446 141.5h7M449.5 138v7M446 132.5h7M449.5 129v7M447 136.5h7M450.5 133v7M447 141.5h7M450.5 138v7M447 136.5h7M450.5 133v7M447 132.5h7M450.5 129v7M448 141.5h7M451.5 138v7M448 132.5h7M451.5 129v7M448 136.5h7M451.5 133v7M448 141.5h7M451.5 138v7M449 136.5h7M452.5 133v7M449 150.5h7M452.5 147v7M449 141.5h7M452.5 138v7M449 146.5h7M452.5 143v7M450 146.5h7M453.5 143v7M450 146.5h7M453.5 143v7M450 146.5h7M453.5 143v7M451 132.5h7M454.5 129v7M451 132.5h7M454.5 129v7M451 136.5h7M454.5 133v7M451 136.5h7M454.5 133v7M452 132.5h7M455.5 129v7M452 150.5h7M455.5 147v7M452 159.5h7M455.5 156v7M452 155.5h7M455.5 152v7M453 141.5h7M456.5 138v7M453 141.5h7M456.5 138v7M453 141.5h7M456.5 138v7M453 141.5h7M456.5 138v7M454 141.5h7M457.5 138v7M454 136.5h7M457.5 133v7M454 159.5h7M457.5 156v7M455 150.5h7M458.5 147v7M455 132.5h7M458.5 129v7M455 132.5h7M458.5 129v7M455 136.5h7M458.5 133v7M456 159.5h7M459.5 156v7M456 159.5h7M459.5 156v7M456 155.5h7M459.5 152v7M456 155.5h7M459.5 152v7M457 155.5h7M460.5 152v7M457 146.5h7M460.5 143v7M457 132.5h7M460.5 129v7M457 132.5h7M460.5 129v7M458 132.5h7M461.5 129v7M458 146.5h7M461.5 143v7M458 150.5h7M461.5 147v7M458 155.5h7M461.5 152v7M459 159.5h7M462.5 156v7M459 159.5h7M462.5 156v7M459 146.5h7M462.5 143v7M460 150.5h7M463.5 147v7M460 150.5h7M463.5 147v7M460 146.5h7M463.5 143v7M460 150.5h7M463.5 147v7M461 155.5h7M464.5 152v7M461 136.5h7M464.5 133v7M461 150.5h7M464.5 147v7M461 141.5h7M464.5 138v7M462 141.5h7M465.5 138v7M462 141.5h7M465.5 138v7M462 136.5h7M465.5 133v7M462 136.5h7M465.5 133v7M463 146.5h7M466.5 143v7M463 146.5h7M466.5 143v7M463 146.5h7M466.5 143v7M464 136.5h7M467.5 133v7M464 146.5h7M467.5 143v7M464 146.5h7M467.5 143v7M464 141.5h7M467.5 138v7M465 136.5h7M468.5 133v7M465 132.5h7M468.5 129v7M465 141.5h7M468.5 138v7M465 132.5h7M468.5 129v7M466 136.5h7M469.5 133v7M466 141.5h7M469.5 138v7M466 136.5h7M469.5 133v7M466 132.5h7M469.5 129v7M467 141.5h7M470.5 138v7M467 132.5h7M470.5 129v7M467 150.5h7M470.5 147v7M467 141.5h7M470.5 138v7M468 136.5h7M471.5 133v7M468 132.5h7M471.5 129v7M468 141.5h7M471.5 138v7M469 132.5h7M472.5 129v7M469 136.5h7M472.5 133v7M469 141.5h7M472.5 138v7M469 136.5h7M472.5 133v7M470 132.5h7M473.5 129v7M470 141.5h7M473.5 138v7M470 132.5h7M473.5 129v7M470 136.5h7M473.5 133v7M471 141.5h7M474.5 138v7M471 136.5h7M474.5 133v7M471 132.5h7M474.5 129v7M471 141.5h7M474.5 138v7M472 132.5h7M475.5 129v7M472 146.5h7M475.5 143v7M472 141.5h7M475.5 138v7M473 146.5h7M476.5 143v7M473 150.5h7M476.5 147v7M473 146.5h7M476.5 143v7M473 146.5h7M476.5 143v7M474 141.5h7M477.5 138v7M474 141.5h7M477.5 138v7M474 150.5h7M477.5 147v7M474 150.5h7M477.5 147v7M475 150.5h7M478.5 147v7M475 164.5h7M478.5 161v7M475 155.5h7M478.5 152v7M475 155.5h7M478.5 152v7M476 146.5h7M479.5 143v7M476 164.5h7M479.5 161v7M476 168.5h7M479.5 165v7M477 164.5h7M480.5 161v7M477 136.5h7M480.5 133v7M477 150.5h7M480.5 147v7M477 150.5h7M480.5 147v7M478 150.5h7M481.5 147v7M478 168.5h7M481.5 165v7M478 146.5h7M481.5 143v7M478 132.5h7M481.5 129v7M479 132.5h7M482.5 129v7M479 132.5h7M482.5 129v7M479 150.5h7M482.5 147v7M479 136.5h7M482.5 133v7M480 146.5h7M483.5 143v7M480 155.5h7M483.5 152v7M480 141.5h7M483.5 138v7M480 141.5h7M483.5 138v7M481 136.5h7M484.5 133v7M481 141.5h7M484.5 138v7M481 141.5h7M484.5 138v7M482 136.5h7M485.5 133v7M482 173.5h7M485.5 170v7M482 164.5h7M485.5 161v7M482 136.5h7M485.5 133v7M483 136.5h7M486.5 133v7M483 150.5h7M486.5 147v7M483 141.5h7M486.5 138v7M483 141.5h7M486.5 138v7M484 159.5h7M487.5 156v7M484 146.5h7M487.5 143v7M484 159.5h7M487.5 156v7M484 132.5h7M487.5 129v7M485 159.5h7M488.5 156v7M485 146.5h7M488.5 143v7M485 146.5h7M488.5 143v7M486 146.5h7M489.5 143v7M486 141.5h7M489.5 138v7M486 141.5h7M489.5 138v7M486 150.5h7M489.5 147v7M487 146.5h7M490.5 143v7M487 146.5h7M490.5 143v7M487 132.5h7M490.5 129v7M487 141.5h7M490.5 138v7M488 132.5h7M491.5 129v7M488 136.5h7M491.5 133v7M488 141.5h7M491.5 138v7M488 136.5h7M491.5 133v7M489 132.5h7M492.5 129v7M489 141.5h7M492.5 138v7M489 146.5h7M492.5 143v7M489 136.5h7M492.5 133v7M490 136.5h7M493.5 133v7M490 136.5h7M493.5 133v7M490 132.5h7M493.5 129v7M491 141.5h7M494.5 138v7M491 132.5h7M494.5 129v7M491 136.5h7M494.5 133v7M491 141.5h7M494.5 138v7M492 136.5h7M495.5 133v7M492 132.5h7M495.5 129v7M492 141.5h7M495.5 138v7M492 132.5h7M495.5 129v7M493 136.5h7M496.5 133v7M493 141.5h7M496.5 138v7M493 136.5h7M496.5 133v7M493 150.5h7M496.5 147v7M494 141.5h7M497.5 138v7M494 132.5h7M497.5 129v7M494 136.5h7M497.5 133v7M495 141.5h7M498.5 138v7M495 136.5h7M498.5 133v7M495 141.5h7M498.5 138v7M495 141.5h7M498.5 138v7M496 141.5h7M499.5 138v7M496 141.5h7M499.5 138v7M496 141.5h7M499.5 138v7M496 132.5h7M499.5 129v7M497 150.5h7M500.5 147v7M497 150.5h7M500.5 147v7M497 136.5h7M500.5 133v7M497 159.5h7M500.5 156v7M498 155.5h7M501.5 152v7M498 164.5h7M501.5 161v7M498 173.5h7M501.5 170v7M498 150.5h7M501.5 147v7M499 159.5h7M502.5 156v7M499 150.5h7M502.5 147v7M499 150.5h7M502.5 147v7M500 132.5h7M503.5 129v7M500 155.5h7M503.5 152v7M500 168.5h7M503.5 165v7M500 168.5h7M503.5 165v7M501 150.5h7M504.5 147v7M501 141.5h7M504.5 138v7M501 141.5h7M504.5 138v7M501 141.5h7M504.5 138v7M502 146.5h7M505.5 143v7M502 141.5h7M505.5 138v7M502 150.5h7M505.5 147v7M502 132.5h7M505.5 129v7M503 173.5h7M506.5 170v7M503 173.5h7M506.5 170v7M503 173.5h7M506.5 170v7M504 155.5h7M507.5 152v7M504 155.5h7M507.5 152v7M504 155.5h7M507.5 152v7M504 155.5h7M507.5 152v7M505 155.5h7M508.5 152v7M505 173.5h7M508.5 170v7M505 164.5h7M508.5 161v7M505 177.5h7M508.5 174v7M506 168.5h7M509.5 165v7M506 168.5h7M509.5 165v7M506 132.5h7M509.5 129v7M506 132.5h7M509.5 129v7M507 164.5h7M510.5 161v7M507 164.5h7M510.5 161v7M507 159.5h7M510.5 156v7M508 159.5h7M511.5 156v7M508 150.5h7M511.5 147v7M508 150.5h7M511.5 147v7M508 146.5h7M511.5 143v7M509 155.5h7M512.5 152v7M509 146.5h7M512.5 143v7M509 136.5h7M512.5 133v7M509 136.5h7M512.5 133v7M510 141.5h7M513.5 138v7M510 150.5h7M513.5 147v7M510 136.5h7M513.5 133v7M510 146.5h7M513.5 143v7M511 136.5h7M514.5 133v7M511 150.5h7M514.5 147v7M511 141.5h7M514.5 138v7M511 136.5h7M514.5 133v7M512 136.5h7M515.5 133v7M512 141.5h7M515.5 138v7M512 136.5h7M515.5 133v7M513 132.5h7M516.5 129v7M513 141.5h7M516.5 138v7M513 132.5h7M516.5 129v7M513 136.5h7M516.5 133v7M514 141.5h7M517.5 138v7M514 136.5h7M517.5 133v7M514 132.5h7M517.5 129v7M514 141.5h7M517.5 138v7M515 146.5h7M518.5 143v7M515 136.5h7M518.5 133v7M515 141.5h7M518.5 138v7M515 136.5h7M518.5 133v7M516 132.5h7M519.5 129v7M516 141.5h7M519.5 138v7M516 132.5h7M519.5 129v7M517 136.5h7M520.5 133v7M517 141.5h7M520.5 138v7M517 136.5h7M520.5 133v7M517 132.5h7M520.5 129v7M518 141.5h7M521.5 138v7M518 132.5h7M521.5 129v7M518 136.5h7M521.5 133v7M518 141.5h7M521.5 138v7M519 136.5h7M522.5 133v7M519 150.5h7M522.5 147v7M519 150.5h7M522.5 147v7M519 141.5h7M522.5 138v7M520 141.5h7M523.5 138v7M520 136.5h7M523.5 133v7M520 141.5h7M523.5 138v7M520 150.5h7M523.5 147v7M521 146.5h7M524.5 143v7M521 150.5h7M524.5 147v7M521 141.5h7M524.5 138v7M522 150.5h7M525.5 147v7M522 150.5h7M525.5 147v7M522 150.5h7M525.5 147v7M522 159.5h7M525.5 156v7M523 132.5h7M526.5 129v7M523 155.5h7M526.5 152v7M523 155.5h7M526.5 152v7M523 132.5h7M526.5 129v7M524 132.5h7M527.5 129v7M524 132.5h7M527.5 129v7M524 132.5h7M527.5 129v7M524 132.5h7M527.5 129v7M525 155.5h7M528.5 152v7M525 159.5h7M528.5 156v7M525 159.5h7M528.5 156v7M526 159.5h7M529.5 156v7M526 150.5h7M529.5 147v7M526 150.5h7M529.5 147v7M526 159.5h7M529.5 156v7M527 150.5h7M530.5 147v7M527 168.5h7M530.5 165v7M527 164.5h7M530.5 161v7M527 164.5h7M530.5 161v7M528 155.5h7M531.5 152v7M528 150.5h7M531.5 147v7M528 155.5h7M531.5 152v7M528 155.5h7M531.5 152v7M529 155.5h7M532.5 152v7M529 155.5h7M532.5 152v7M529 168.5h7M532.5 165v7M530 155.5h7M533.5 152v7M530 164.5h7M533.5 161v7M530 164.5h7M533.5 161v7M530 164.5h7M533.5 161v7M531 164.5h7M534.5 161v7M531 150.5h7M534.5 147v7M531 150.5h7M534.5 147v7M531 146.5h7M534.5 143v7M532 146.5h7M535.5 143v7M532 155.5h7M535.5 152v7M532 150.5h7M535.5 147v7M532 141.5h7M535.5 138v7M533 141.5h7M536.5 138v7M533 141.5h7M536.5 138v7M533 150.5h7M536.5 147v7M533 150.5h7M536.5 147v7M534 132.5h7M537.5 129v7M534 132.5h7M537.5 129v7M534 141.5h7M537.5 138v7M535 150.5h7M538.5 147v7M535 132.5h7M538.5 129v7M535 141.5h7M538.5 138v7M535 132.5h7M538.5 129v7M536 136.5h7M539.5 133v7M536 141.5h7M539.5 138v7M536 136.5h7M539.5 133v7M536 132.5h7M539.5 129v7M537 141.5h7M540.5 138v7M537 132.5h7M540.5 129v7M537 136.5h7M540.5 133v7M537 141.5h7M540.5 138v7M538 136.5h7M541.5 133v7M538 132.5h7M541.5 129v7M538 141.5h7M541.5 138v7M539 132.5h7M542.5 129v7M539 146.5h7M542.5 143v7M539 141.5h7M542.5 138v7M539 136.5h7M542.5 133v7M540 132.5h7M543.5 129v7M540 141.5h7M543.5 138v7M540 132.5h7M543.5 129v7M540 136.5h7M543.5 133v7M541 141.5h7M544.5 138v7M541 136.5h7M544.5 133v7M541 146.5h7M544.5 143v7M541 146.5h7M544.5 143v7M542 146.5h7M545.5 143v7M542 146.5h7M545.5 143v7M542 141.5h7M545.5 138v7M542 146.5h7M545.5 143v7M543 150.5h7M546.5 147v7M543 132.5h7M546.5 129v7M543 159.5h7M546.5 156v7M544 159.5h7M547.5 156v7M544 164.5h7M547.5 161v7M544 164.5h7M547.5 161v7M544 164.5h7M547.5 161v7M545 146.5h7M548.5 143v7M545 155.5h7M548.5 152v7M545 173.5h7M548.5 170v7M545 141.5h7M548.5 138v7M546 150.5h7M549.5 147v7M546 150.5h7M549.5 147v7M546 150.5h7M549.5 147v7M546 177.5h7M549.5 174v7M547 177.5h7M550.5 174v7M547 173.5h7M550.5 170v7M547 150.5h7M550.5 147v7M548 164.5h7M551.5 161v7M548 173.5h7M551.5 170v7M548 173.5h7M551.5 170v7M548 173.5h7M551.5 170v7M549 150.5h7M552.5 147v7M549 150.5h7M552.5 147v7M549 146.5h7M552.5 143v7M549 146.5h7M552.5 143v7M550 168.5h7M553.5 165v7M550 168.5h7M553.5 165v7M550 173.5h7M553.5 170v7M550 173.5h7M553.5 170v7M551 150.5h7M554.5 147v7M551 136.5h7M554.5 133v7M551 141.5h7M554.5 138v7M551 146.5h7M554.5 143v7M552 132.5h7M555.5 129v7M552 136.5h7M555.5 133v7M552 141.5h7M555.5 138v7M553 132.5h7M556.5 129v7M553 150.5h7M556.5 147v7M553 159.5h7M556.5 156v7M553 159.5h7M556.5 156v7M554 141.5h7M557.5 138v7M554 132.5h7M557.5 129v7M554 146.5h7M557.5 143v7M554 132.5h7M557.5 129v7M555 155.5h7M558.5 152v7M555 146.5h7M558.5 143v7M555 141.5h7M558.5 138v7M555 155.5h7M558.5 152v7M556 141.5h7M559.5 138v7M556 150.5h7M559.5 147v7M105 132.5h7M108.5 129v7M151 127.5h7M154.5 124v7M172 118.5h7M175.5 115v7M194 118.5h7M197.5 115v7M195 123.5h7M198.5 120v7M198 132.5h7M201.5 129v7M217 109.5h7M220.5 106v7M216 132.5h7M219.5 129v7M219 132.5h7M222.5 129v7M235 114.5h7M238.5 111v7M236 118.5h7M239.5 115v7M234 132.5h7M237.5 129v7M239 132.5h7M242.5 129v7M258 132.5h7M261.5 129v7M290 132.5h7M293.5 129v7M306 127.5h7M309.5 124v7M327 127.5h7M330.5 124v7M371 127.5h7M374.5 124v7M322 132.5h7M325.5 129v7M388 109.5h7M391.5 106v7M389 122.5h7M392.5 119v7M410 109.5h7M413.5 106v7M409 118.5h7M412.5 115v7M408 127.5h7M411.5 124v7M479 127.5h7M482.5 124v7M543 127.5h7M546.5 124v7M80 200.5h7M83.5 197v7M80 186.5h7M83.5 183v7M80 182.5h7M83.5 179v7M81 177.5h7M84.5 174v7M80 168.5h7M83.5 165v7M82 168.5h7M85.5 165v7M81 164.5h7M84.5 161v7M83 164.5h7M86.5 161v7M82 164.5h7M85.5 161v7M83 159.5h7M86.5 156v7M85 159.5h7M88.5 156v7M84 159.5h7M87.5 156v7M84 155.5h7M87.5 152v7M87 155.5h7M90.5 152v7M85 155.5h7M88.5 152v7M86 155.5h7M89.5 152v7M85 150.5h7M88.5 147v7M86 150.5h7M89.5 147v7M87 150.5h7M90.5 147v7M88 150.5h7M91.5 147v7M86 146.5h7M89.5 143v7M87 146.5h7M90.5 143v7M88 146.5h7M91.5 143v7M89 146.5h7M92.5 143v7M88 141.5h7M91.5 138v7M89 141.5h7M92.5 138v7M95 155.5h7M98.5 152v7M102 155.5h7M105.5 152v7M109 155.5h7M112.5 152v7M105 159.5h7M108.5 156v7M106 159.5h7M109.5 156v7M99 164.5h7M102.5 161v7M108 164.5h7M111.5 161v7M112 141.5h7M115.5 138v7M113 148.5h7M116.5 145v7M97 136.5h7M100.5 133v7M106 136.5h7M109.5 133v7M112 182.5h7M115.5 179v7M112 191.5h7M115.5 188v7M113 191.5h7M116.5 188v7M113 195.5h7M116.5 192v7M114 173.5h7M117.5 170v7M117 173.5h7M120.5 170v7M114 177.5h7M117.5 174v7M111 177.5h7M114.5 174v7M115 168.5h7M118.5 165v7M113 168.5h7M116.5 165v7M116 164.5h7M119.5 161v7M130 191.5h7M133.5 188v7M132 195.5h7M135.5 192v7M131 200.5h7M134.5 197v7M134 200.5h7M137.5 197v7M152 182.5h7M155.5 179v7M155 186.5h7M158.5 183v7M156 191.5h7M159.5 188v7M153 200.5h7M156.5 197v7M154 204.5h7M157.5 201v7M151 209.5h7M154.5 206v7M152 214.5h7M155.5 211v7M157 182.5h7M160.5 179v7M157 186.5h7M160.5 183v7M172 204.5h7M175.5 201v7M173 195.5h7M176.5 192v7M171 191.5h7M174.5 188v7M176 186.5h7M179.5 183v7M169 182.5h7M172.5 179v7M195 204.5h7M198.5 201v7M194 191.5h7M197.5 188v7M200 191.5h7M203.5 188v7M197 195.5h7M200.5 192v7M193 182.5h7M196.5 179v7M202 182.5h7M205.5 179v7M190 177.5h7M193.5 174v7M204 177.5h7M207.5 174v7M217 209.5h7M220.5 206v7M219 209.5h7M222.5 206v7M220 191.5h7M223.5 188v7M218 182.5h7M221.5 179v7M216 177.5h7M219.5 174v7M235 182.5h7M238.5 179v7M235 191.5h7M238.5 188v7M239 191.5h7M242.5 188v7M242 191.5h7M245.5 188v7M240 195.5h7M243.5 192v7M238 204.5h7M241.5 201v7M259 191.5h7M262.5 188v7M262 182.5h7M265.5 179v7M282 186.5h7M285.5 183v7M285 186.5h7M288.5 183v7M302 195.5h7M305.5 192v7M307 182.5h7M310.5 179v7M323 214.5h7M326.5 211v7M347 191.5h7M350.5 188v7M346 182.5h7M349.5 179v7M367 186.5h7M370.5 183v7M389 195.5h7M392.5 192v7M389 186.5h7M392.5 183v7M392 186.5h7M395.5 183v7M413 191.5h7M416.5 188v7M412 186.5h7M415.5 183v7M416 182.5h7M419.5 179v7M434 191.5h7M437.5 188v7M455 191.5h7M458.5 188v7M457 182.5h7M460.5 179v7M459 182.5h7M462.5 179v7M456 186.5h7M459.5 183v7M479 200.5h7M482.5 197v7M478 191.5h7M481.5 188v7M481 186.5h7M484.5 183v7M505 182.5h7M508.5 179v7M547 191.5h7M550.5 188v7M552 182.5h7M555.5 179v7M523 155.5h7M526.5 152v7M525 155.5h7M528.5 152v7M528 155.5h7M531.5 152v7M530 155.5h7M533.5 152v7M524 159.5h7M527.5 156v7M526 159.5h7M529.5 156v7M528 159.5h7M531.5 156v7M530 159.5h7M533.5 156v7M525 164.5h7M528.5 161v7M527 164.5h7M530.5 161v7M528 164.5h7M531.5 161v7M526 168.5h7M529.5 165v7M527 168.5h7M530.5 165v7M525 177.5h7M528.5 174v7M531 173.5h7M534.5 170v7M79 254.5h7M82.5 251v7M556 390.5h7M559.5 387v7M571 57.5h7M574.5 54v7" stroke="#9400d3" stroke-width="1" fill="none" shape-rendering="crispEdges"/>
<path d="M135.5 431v-5M135.5 46v5M188.5 431v-5M188.5 46v5M241.5 431v-5M241.5 46v5M294.5 431v-5M294.5 46v5M347.5 431v-5M347.5 46v5M400.5 431v-5M400.5 46v5M453.5 431v-5M453.5 46v5M506.5 431v-5M506.5 46v5M559.5 431v-5M559.5 46v5M83 374.5h4M612 374.5h-4M83 318.5h4M612 318.5h-4M83 261.5h4M612 261.5h-4M83 204.5h4M612 204.5h-4M83 148.5h4M612 148.5h-4M83 91.5h4M612 91.5h-4" stroke="#000" stroke-width="1" fill="none" shape-rendering="crispEdges"/>
<rect x="82.5" y="45.5" width="530" height="386" fill="none" stroke="#000" stroke-width="1" shape-rendering="crispEdges"/>
</svg>
</body></html>
